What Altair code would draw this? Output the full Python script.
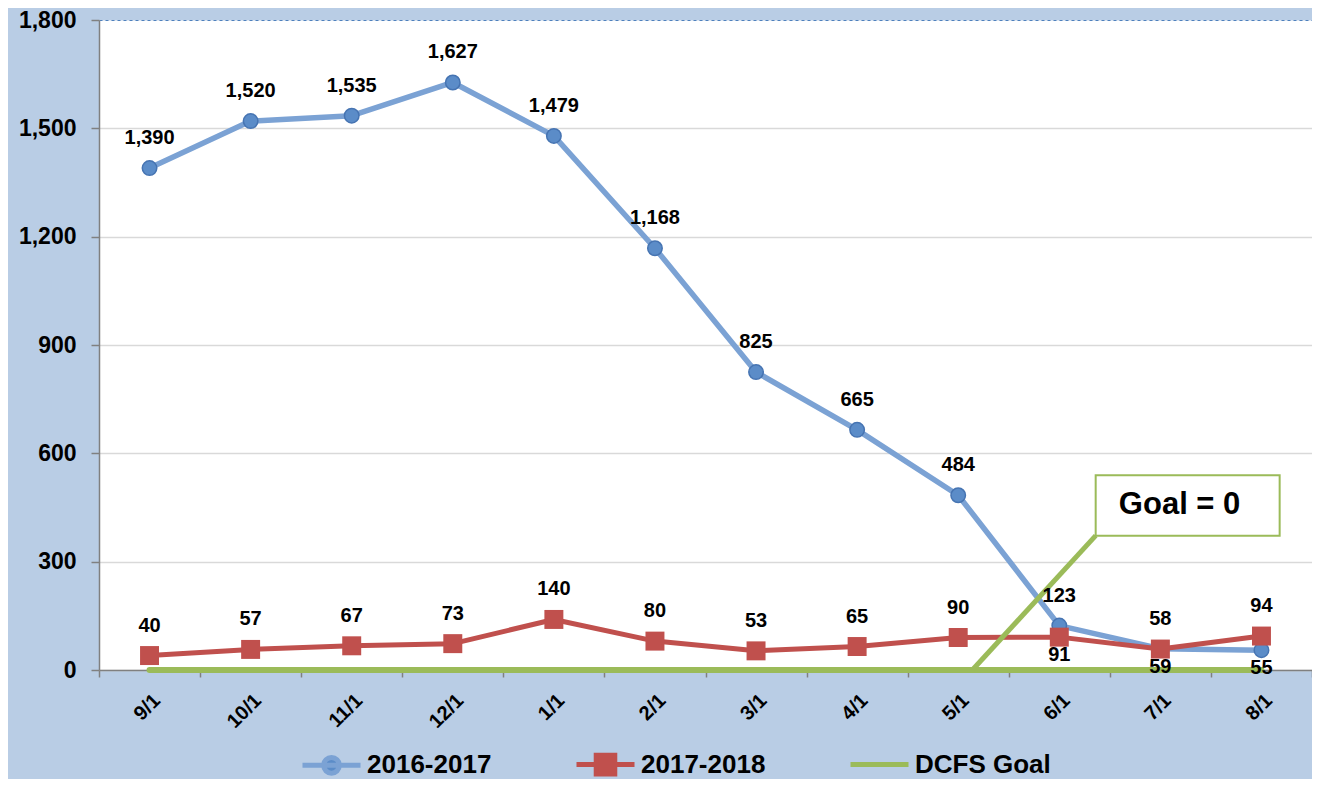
import altair as alt
import pandas as pd

# ---------------- data ----------------
months = ["9/1", "10/1", "11/1", "12/1", "1/1", "2/1", "3/1", "4/1", "5/1", "6/1", "7/1", "8/1"]
s_2016 = [1390, 1520, 1535, 1627, 1479, 1168, 825, 665, 484, 123, 59, 55]
s_2017 = [40, 57, 67, 73, 140, 80, 53, 65, 90, 91, 58, 94]
s_goal = [0, 0, 0, 0, 0, 0, 0, 0, 0, 0, 0, 0]
series_names = ["2016-2017", "2017-2018", "DCFS Goal"]
y_ticks = [0, 300, 600, 900, 1200, 1500, 1800]

callout_text = "Goal = 0"
# callout (data units: x = month index, y = value)
callout_box = {"x": 9.36, "x2": 11.18, "y": 372, "y2": 539}
callout_label = {"x": 10.19, "y": 456}
callout_leader = {"x": 8.14, "y": 0, "x2": 9.36, "y2": 372}

# labels placed below their point instead of above
labels_below = {("2016-2017", "7/1"), ("2016-2017", "8/1"), ("2017-2018", "6/1")}

# ---------------- styling ----------------
BG = "#B9CDE5"
BLUE_LINE = "#7BA2D4"
BLUE_MARK = "#5B8CC8"
BLUE_EDGE = "#4674B2"
RED = "#C0504D"
GREEN = "#9BBB59"
FONT = "Liberation Sans"
W, H = 1213, 650

rows = []
for name, vals in [("2016-2017", s_2016), ("2017-2018", s_2017)]:
    for i, (m, v) in enumerate(zip(months, vals)):
        rows.append({"idx": i, "month": m, "series": name, "value": v,
                     "label": f"{v:,}", "below": (name, m) in labels_below})
df = pd.DataFrame(rows)
df_goal = pd.DataFrame({"idx": list(range(len(months))), "value": s_goal})

x_scale = alt.Scale(domain=[-0.5, len(months) - 0.5], nice=False, zero=False)
y_scale = alt.Scale(domain=[0, 1800], nice=False)

cat_js = "[" + ",".join(f"'{m}'" for m in months) + "]"
x_axis = alt.Axis(
    values=[i - 0.5 for i in range(len(months) + 1)],
    labelExpr=f"{cat_js}[datum.value + 0.5] || ''",
    labelOffset=W / len(months) / 2,
    labelAngle=-45, labelFont=FONT, labelFontSize=20, labelFontWeight="bold",
    labelColor="black", labelPadding=13, labelOverlap=False, labelFlush=False,
    labelBound=False,
    tickSize=7, tickColor="#808080", tickWidth=1.5,
    domainColor="#808080", domainWidth=1.5, grid=False, title=None,
)
y_axis = alt.Axis(
    values=y_ticks, format=",d", labelFont=FONT, labelFontSize=23,
    labelFontWeight="bold", labelColor="black", labelPadding=15,
    tickSize=8, tickColor="#808080", tickWidth=1.5,
    domainColor="#808080", domainWidth=1.5,
    gridColor="#D9D9D9", gridWidth=1.5,
    gridOpacity=alt.condition("datum.value == 1800", alt.value(0), alt.value(1)),
    title=None,
)

X = alt.X("idx:Q", scale=x_scale, axis=x_axis)
Y = alt.Y("value:Q", scale=y_scale, axis=y_axis)

base = alt.Chart(df)

blue_line = base.transform_filter("datum.series == '2016-2017'").mark_line(
    color=BLUE_LINE, strokeWidth=5.5, strokeCap="round", strokeJoin="round"
).encode(x=X, y=Y)
red_line = base.transform_filter("datum.series == '2017-2018'").mark_line(
    color=RED, strokeWidth=5, strokeCap="round", strokeJoin="round"
).encode(x=X, y=Y)
blue_pts = base.transform_filter("datum.series == '2016-2017'").mark_point(
    shape="circle", filled=True, size=210, fill=BLUE_MARK, stroke=BLUE_EDGE,
    strokeWidth=1.5, opacity=1
).encode(x=X, y=Y)
red_pts = base.transform_filter("datum.series == '2017-2018'").mark_point(
    shape="square", filled=True, size=360, color=RED, opacity=1
).encode(x=X, y=Y)

goal_line = alt.Chart(df_goal).mark_line(
    color=GREEN, strokeWidth=6, strokeCap="round"
).encode(x=X, y=Y)

df_leader = pd.DataFrame([callout_leader])
leader = alt.Chart(df_leader).mark_rule(color=GREEN, strokeWidth=5).encode(
    x=alt.X("x:Q", scale=x_scale), y=alt.Y("y:Q", scale=y_scale),
    x2="x2:Q", y2="y2:Q")
df_box = pd.DataFrame([callout_box])
box = alt.Chart(df_box).mark_rect(fill="white", stroke=GREEN, strokeWidth=2).encode(
    x=alt.X("x:Q", scale=x_scale), y=alt.Y("y:Q", scale=y_scale),
    x2="x2:Q", y2="y2:Q")
df_ct = pd.DataFrame([{**callout_label, "text": callout_text}])
box_text = alt.Chart(df_ct).mark_text(
    font=FONT, fontSize=31, fontWeight="bold", color="black",
    align="center", baseline="middle"
).encode(x=alt.X("x:Q", scale=x_scale), y=alt.Y("y:Q", scale=y_scale), text="text:N")

lab_above = base.transform_filter("!datum.below").mark_text(
    font=FONT, fontSize=20, fontWeight="bold", color="black", dy=-30,
    baseline="middle"
).encode(x=X, y=Y, text="label:N")
lab_below = base.transform_filter("datum.below").mark_text(
    font=FONT, fontSize=20, fontWeight="bold", color="black", dy=18,
    baseline="middle"
).encode(x=X, y=Y, text="label:N")

# legend layer (its marks are placed off-canvas; only the legend is visible)
df_leg = pd.DataFrame({"series": series_names})
circle_path = "M-1,0H1M-0.27,0A0.27,0.27,0,1,0,0.27,0A0.27,0.27,0,1,0,-0.27,0Z"
square_path = "M-1,0H1M-0.32,-0.32H0.32V0.32H-0.32Z"
line_path = "M-1,0H1M0,-0.32M0,0.32"
leg = alt.Legend(
    title=None, orient="none", legendX=201, legendY=713, direction="horizontal",
    labelFont=FONT, labelFontSize=26, labelFontWeight="bold", labelColor="black",
    labelBaseline="middle",
    symbolSize=3364, symbolStrokeWidth=5, symbolOpacity=1, labelOffset=4,
    columnPadding=74, padding=0, labelLimit=300,
)
col_scale = alt.Scale(domain=series_names, range=[BLUE_LINE, RED, GREEN])
fill_scale = alt.Scale(domain=series_names, range=[BLUE_MARK, RED, GREEN])
shape_scale = alt.Scale(domain=series_names, range=[circle_path, square_path, line_path])
legend_layer = alt.Chart(df_leg).mark_point(
    filled=False, opacity=1, fillOpacity=1, strokeWidth=5
).encode(
    x=alt.value(-3000), y=alt.value(-3000),
    color=alt.Color("series:N", scale=col_scale, legend=leg),
    fill=alt.Fill("series:N", scale=fill_scale, legend=leg),
    shape=alt.Shape("series:N", scale=shape_scale, legend=leg),
)

chart = alt.layer(
    blue_line, red_line, blue_pts, red_pts, goal_line, leader, box, box_text,
    lab_above, lab_below, legend_layer
).resolve_scale(color="independent", fill="independent", shape="independent").properties(
    width=W, height=H, background=BG,
    padding={"left": 91, "top": 12, "right": 0, "bottom": 109},
    autosize=alt.AutoSizeParams(type="none"),
).configure_view(
    fill="white", stroke="#4F81BD", strokeDash=[3, 3], strokeWidth=1
)

chart.save("out.html", embed_options={"renderer": "svg", "actions": False})
